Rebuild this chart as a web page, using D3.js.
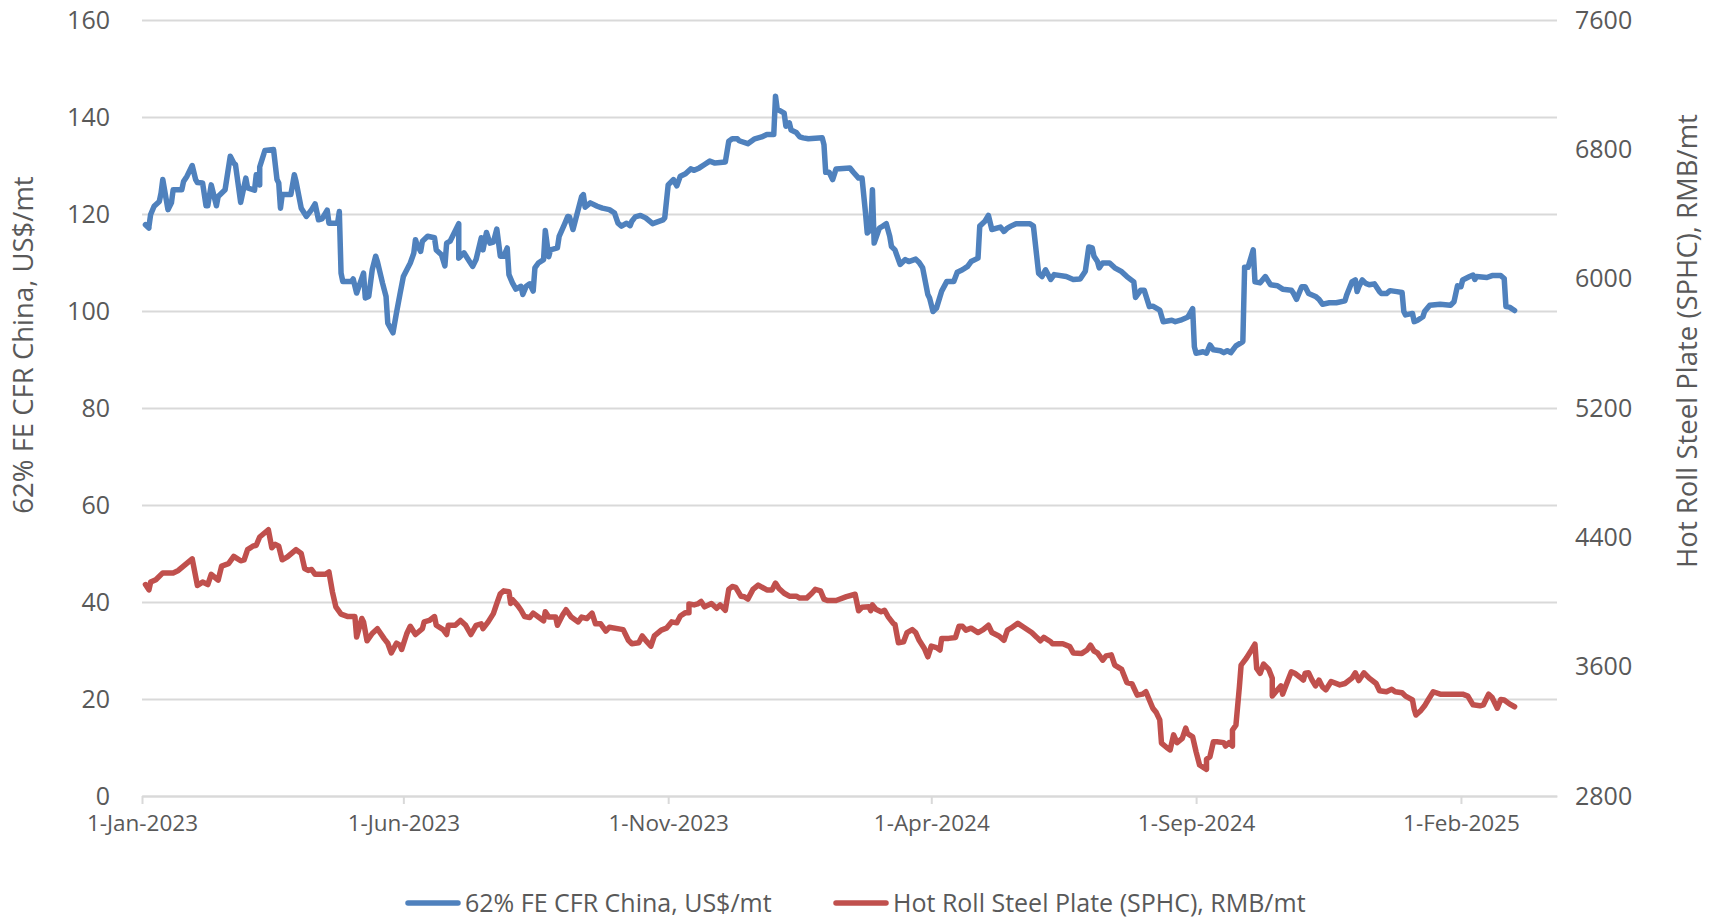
<!DOCTYPE html>
<html>
<head>
<meta charset="utf-8">
<script src="https://cdn.jsdelivr.net/npm/d3@7"></script>
<style>
  html, body { margin: 0; padding: 0; background: #ffffff; }
  svg { display: block; font-family: "Open Sans", "Noto Sans", sans-serif; }
</style>
</head>
<body>
<svg id="chart" width="1719" height="919"></svg>
<script>
// ---------------- DATA ----------------
// x values are days after 1-Jan-2023
const startDate = "2023-01-01";
const xTickDates = ["2023-01-01", "2023-06-01", "2023-11-01", "2024-04-01", "2024-09-01", "2025-02-01"];
const leftTicks = [0, 20, 40, 60, 80, 100, 120, 140, 160];
const rightTicks = [2800, 3600, 4400, 5200, 6000, 6800, 7600];
const seriesNames = ["62% FE CFR China, US$/mt", "Hot Roll Steel Plate (SPHC), RMB/mt"];

const ironDays = [
  2,4,4,5,7,10,11,12,14,15,
  17,18,23,24,26,29,31,32,35,37,
  38,40,43,44,48,51,53,54,57,60,
  61,65,66,68,68,71,76,78,79,80,
  81,86,88,89,92,95,98,100,102,104,
  107,108,113,114,115,116,121,122,124,128,
  129,131,133,135,136,139,141,142,145,147,
  149,151,155,157,158,159,161,162,165,169,
  170,173,175,176,178,183,183,186,188,191,
  193,196,197,199,201,203,205,207,209,211,
  212,214,216,219,220,222,224,226,227,229,
  232,233,235,236,240,241,244,246,247,249,
  252,254,255,256,259,263,266,270,273,275,
  277,280,282,283,285,288,291,295,301,302,
  304,307,309,311,314,317,319,322,325,328,
  331,337,339,341,344,345,350,354,358,361,
  365,366,367,369,371,372,374,375,378,380,
  382,385,393,394,395,397,399,401,409,411,
  414,416,418,419,421,422,423,426,428,430,
  432,433,435,438,441,443,447,449,451,454,
  455,457,459,462,465,469,471,474,477,479,
  483,484,487,489,491,496,498,500,502,505,
  513,515,518,520,522,525,527,534,538,542,
  545,547,549,550,552,553,555,559,562,566,
  569,573,574,577,579,582,584,588,590,595,
  597,600,604,605,607,608,609,613,615,617,
  619,623,625,627,629,632,636,637,637,639,
  642,643,646,649,652,656,659,664,665,667,
  670,672,674,678,680,682,686,690,695,696,
  699,701,702,703,705,707,709,712,715,716,
  719,721,725,728,729,730,734,735,737,740,
  741,744,750,756,758,760,762,763,767,769,
  770,771,777,780,785,787,788,790,793
];
const ironValues = [
  117.8,117.1,117.4,119.9,121.6,122.6,124.3,127.1,123,120.9,
  122.3,125,125,126.7,127.8,130,127.1,126.5,126.4,121.7,
  121.7,126,121.7,123.6,125,131.9,130.5,130.2,122.4,127.4,
  125.4,124.9,128.1,126,129.7,133.1,133.3,127.1,126.4,121.2,
  124,124,128.1,126.7,121.2,119.5,120.9,122.1,118.8,119,
  120.8,118.1,118.1,120.5,107.8,106.1,106.1,106.6,103.7,107.8,
  102.7,103,108.5,111.3,110.2,105.7,103,97.5,95.5,99.6,
  103.4,107.1,109.9,111.9,114.7,113.6,112.3,114.4,115.4,115.1,
  112.6,111.6,109.3,114,114.4,118,110.9,112,110.9,109.2,
  110.6,115.1,112.6,116.2,114,114.2,116.9,111.3,111.3,113,
  107.5,105.8,104.5,105.1,103.4,105.1,105.6,104.1,108.9,109.9,
  110.6,116.6,111.2,112.6,113,115.4,117.8,119.5,119.4,116.8,
  120.9,123.6,124,121.4,122.3,121.6,121.2,120.9,120.2,118.1,
  117.5,118.1,117.6,118.5,119.4,119.7,119.2,118,118.8,119.2,
  126,127.1,125.8,127.8,128.3,129.3,129,129.5,130.2,130.9,
  130.5,130.7,135,135.5,135.5,135.1,134.5,135.5,135.9,136.4,
  136.4,144.3,141.6,141.2,140.8,138.1,138.8,137.3,136.8,135.9,
  135.7,135.5,135.7,134.3,128.6,128.6,127.1,129.3,129.5,128.6,
  127.4,127.4,120.2,116.1,116.8,125,114,117.1,117.5,118,
  115.4,113.3,112.6,109.6,110.6,110.2,110.7,110,108.9,103.4,
  102.7,99.9,100.6,104.1,106.1,106.1,108,108.5,109.2,110.2,
  110.9,117.5,118.5,119.7,116.8,117.3,116.4,117.1,117.5,118,
  118,117.5,107.8,107.1,108.5,106.5,107.5,107.1,106.5,106.6,
  108.2,113.2,113,111.3,110.2,108.9,109.9,109.9,108.9,108.1,
  107.1,106,102.8,104.3,104.3,100.9,101,100.2,97.8,98.1,
  97.8,98.1,98.7,99.2,100.5,92.6,91.3,91.6,91.3,93,
  92,91.8,91.4,91.8,91.4,92.8,93.7,108.5,109,109,
  112.6,106,105.8,107.1,105.4,105.2,104.5,104.3,103.8,102.4,
  105,105,103.6,103,102.4,101.4,101.7,101.7,102.1,103.3,
  106,106.4,104,105,106.4,105.7,105.4,105.6,104,103.6,
  103.6,104.2,104,103.8,99.9,99.2,99.5,97.8,98.1,98.8,
  99.9,101.2,101.4,101.2,101.9,105.2,105,106.4,107.1,107.4,
  106.5,107.1,106.9,107.3,107.3,106.7,100.9,100.8,100.1
];

const steelDays = [
  2,4,5,8,12,18,21,29,32,35,
  38,40,44,46,50,53,57,59,61,64,
  66,68,73,75,77,79,81,84,89,92,
  94,96,98,100,106,108,110,112,115,119,
  123,124,127,128,130,133,136,140,142,144,
  147,149,150,153,155,158,162,163,166,169,
  170,174,176,177,181,184,187,190,193,196,
  197,200,203,205,207,209,212,213,214,217,
  219,221,224,226,229,232,233,235,239,240,
  243,245,248,252,254,257,260,262,265,268,
  270,278,281,283,287,289,291,294,296,300,
  303,306,309,311,314,316,316,319,321,323,
  325,329,332,334,337,339,341,343,346,348,
  350,353,356,361,364,366,368,371,374,378,
  380,384,387,389,392,394,396,401,407,412,
  414,416,420,421,422,424,427,429,431,434,
  435,437,440,442,445,447,449,452,454,456,
  459,461,462,466,470,472,474,476,479,483,
  486,489,491,495,498,500,502,506,509,514,
  517,519,521,525,526,532,536,538,543,546,
  548,550,552,555,557,560,562,566,569,572,
  575,578,580,582,584,586,588,589,592,594,
  596,598,601,603,604,607,609,611,615,615,
  617,619,621,625,626,628,630,630,632,634,
  635,638,641,643,644,646,648,651,653,653,
  656,658,659,661,664,666,669,671,672,674,
  676,678,680,682,684,687,692,695,699,701,
  703,706,709,713,715,719,722,724,728,730,
  734,735,736,739,741,743,746,750,758,763,
  766,769,773,775,778,780,783,785,787,790,
  793
];
const steelValues = [
  4108,4075,4123,4138,4180,4180,4195,4267,4102,4123,
  4108,4171,4135,4222,4237,4282,4255,4261,4324,4345,
  4351,4402,4447,4336,4357,4345,4261,4279,4324,4300,
  4207,4195,4201,4171,4171,4186,4063,3970,3925,3910,
  3910,3784,3898,3877,3760,3805,3835,3772,3745,3685,
  3745,3733,3706,3805,3850,3799,3835,3877,3886,3910,
  3856,3829,3799,3856,3856,3886,3856,3799,3856,3865,
  3835,3877,3928,3991,4051,4069,4063,3991,4015,3979,
  3949,3910,3904,3931,3907,3883,3940,3907,3907,3856,
  3919,3952,3907,3877,3907,3898,3931,3865,3865,3820,
  3844,3829,3763,3742,3748,3790,3763,3727,3790,3826,
  3838,3877,3871,3913,3934,3934,3988,3982,3988,4003,
  3970,3991,3961,3982,3949,4078,4096,4090,4036,4033,
  4018,4078,4105,4075,4075,4117,4084,4054,4036,4036,
  4024,4024,4054,4078,4069,4018,4009,4009,4033,4048,
  3946,3967,3970,3946,3982,3955,3940,3949,3910,3868,
  3862,3748,3754,3811,3829,3811,3763,3712,3661,3727,
  3718,3703,3775,3775,3781,3850,3850,3826,3838,3811,
  3829,3856,3811,3790,3763,3826,3838,3868,3847,3811,
  3781,3760,3781,3754,3742,3742,3724,3685,3682,3703,
  3733,3697,3685,3640,3667,3673,3610,3583,3502,3493,
  3424,3430,3445,3394,3343,3316,3271,3127,3100,3085,
  3178,3130,3157,3220,3187,3166,3073,2992,2965,3028,
  3043,3136,3136,3130,3109,3130,3109,3208,3238,3475,
  3610,3652,3703,3739,3589,3559,3616,3583,3529,3418,
  3457,3481,3430,3487,3568,3559,3535,3517,3559,3562,
  3517,3481,3517,3475,3457,3508,3487,3496,3529,3562,
  3514,3562,3529,3496,3451,3445,3460,3445,3439,3418,
  3394,3337,3301,3331,3358,3394,3445,3430,3430,3430,
  3418,3364,3358,3364,3430,3409,3343,3397,3394,3370,
  3352
];

// ---------------- CHART ----------------
const svg = d3.select("#chart");
const FONT = "'Open Sans', 'Noto Sans', sans-serif";
const plot = { left: 142, right: 1557, top: 20, bottom: 796 };
const textColor = "#595959";
const gridColor = "#D9D9D9";
const colors = ["#4F81BD", "#C0504D"];

const parse = d3.utcParse("%Y-%m-%d");
const start = parse(startDate);
const dayMs = 864e5;
const toDate = d => new Date(start.getTime() + d * dayMs);
const endDate = new Date(start.getTime() + 817.5 * dayMs);

const x = d3.scaleUtc().domain([start, endDate]).range([plot.left, plot.right]);
const yL = d3.scaleLinear().domain([0, 160]).range([plot.bottom, plot.top]);
const yR = d3.scaleLinear().domain([2800, 7600]).range([plot.bottom, plot.top]);

// left axis with gridlines
const gL = svg.append("g").attr("transform", `translate(${plot.left},0)`)
  .call(d3.axisLeft(yL).tickValues(leftTicks).tickSize(-(plot.right - plot.left)).tickPadding(32).tickFormat(d3.format("d")))
  .attr("font-family", FONT);
gL.select(".domain").remove();
gL.selectAll(".tick line").attr("stroke", gridColor).attr("stroke-width", 2);
gL.selectAll(".tick text").attr("fill", textColor).style("font-size", "25px");

// right axis labels
const gR = svg.append("g").attr("transform", `translate(${plot.right},0)`)
  .call(d3.axisRight(yR).tickValues(rightTicks).tickSize(0).tickPadding(18).tickFormat(d3.format("d")))
  .attr("font-family", FONT);
gR.select(".domain").remove();
gR.selectAll(".tick text").attr("fill", textColor).style("font-size", "25px");

// bottom axis
const fmt = d3.utcFormat("%-d-%b-%Y");
const gX = svg.append("g").attr("transform", `translate(0,${plot.bottom})`)
  .call(d3.axisBottom(x).tickValues(xTickDates.map(parse)).tickSize(8).tickSizeOuter(0).tickPadding(11).tickFormat(fmt))
  .attr("font-family", FONT);
gX.select(".domain").attr("stroke", gridColor).attr("stroke-width", 2);
gX.selectAll(".tick line").attr("stroke", gridColor).attr("stroke-width", 2);
gX.selectAll(".tick text").attr("fill", textColor).style("font-size", "22.5px");

// axis titles
svg.append("text")
  .attr("transform", "translate(23,345) rotate(-90)")
  .attr("text-anchor", "middle").attr("dy", "0.35em")
  .attr("fill", textColor).style("font-size", "27.5px")
  .text(seriesNames[0]);
svg.append("text")
  .attr("transform", "translate(1687,341) rotate(-90)")
  .attr("text-anchor", "middle").attr("dy", "0.35em")
  .attr("fill", textColor).style("font-size", "27.5px")
  .text(seriesNames[1]);

// lines
const ironData = ironDays.map((d, i) => ({ date: toDate(d), v: ironValues[i] }));
const steelData = steelDays.map((d, i) => ({ date: toDate(d), v: steelValues[i] }));

svg.append("path")
  .datum(steelData)
  .attr("fill", "none").attr("stroke", colors[1]).attr("stroke-width", 5.5)
  .attr("stroke-linejoin", "round").attr("stroke-linecap", "round")
  .attr("d", d3.line().x(d => x(d.date)).y(d => yR(d.v)));

svg.append("path")
  .datum(ironData)
  .attr("fill", "none").attr("stroke", colors[0]).attr("stroke-width", 5.5)
  .attr("stroke-linejoin", "round").attr("stroke-linecap", "round")
  .attr("d", d3.line().x(d => x(d.date)).y(d => yL(d.v)));

// legend
const legendItems = [
  { x1: 408, x2: 458, tx: 465 },
  { x1: 836, x2: 886, tx: 893 }
];
const ly = 903;
const lg = svg.append("g");
legendItems.forEach((it, i) => {
  lg.append("line").attr("x1", it.x1).attr("x2", it.x2).attr("y1", ly).attr("y2", ly)
    .attr("stroke", colors[i]).attr("stroke-width", 5.5).attr("stroke-linecap", "round");
  lg.append("text").attr("x", it.tx).attr("y", ly).attr("dy", "0.35em")
    .attr("fill", textColor).style("font-size", "25px").text(seriesNames[i]);
});
</script>
</body>
</html>
